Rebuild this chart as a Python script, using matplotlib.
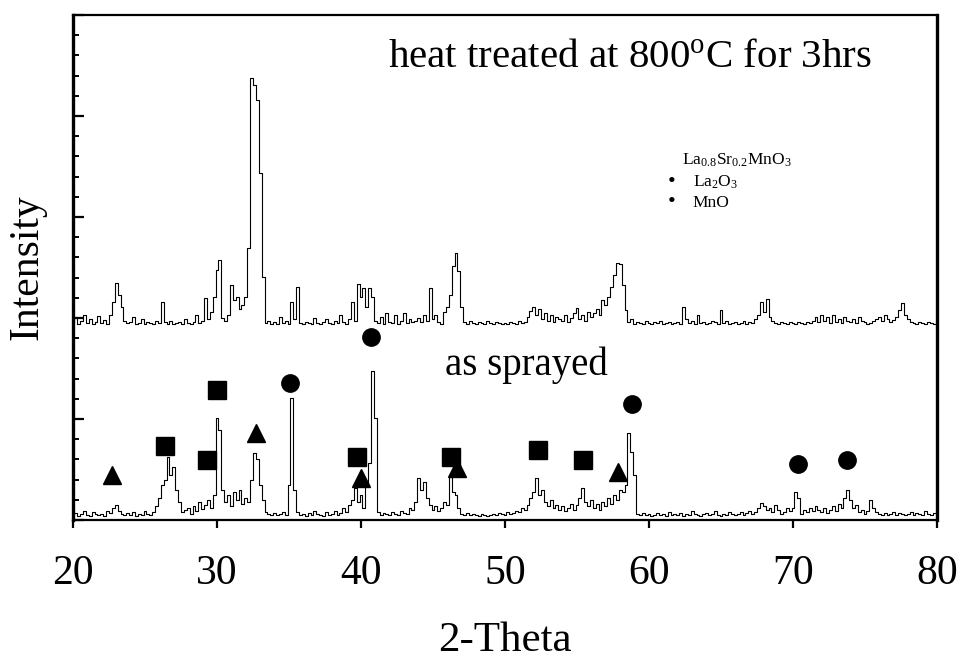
import numpy as np
import matplotlib
matplotlib.use("Agg")
import matplotlib.pyplot as plt
from matplotlib.ticker import MultipleLocator

plt.rcParams['font.family'] = ['Liberation Serif', 'DejaVu Serif']
plt.rcParams['mathtext.fontset'] = 'custom'
plt.rcParams['mathtext.rm'] = 'Liberation Serif'
plt.rcParams['mathtext.it'] = 'Liberation Serif:italic'
plt.rcParams['mathtext.bf'] = 'Liberation Serif:bold'

# ---- data ----
two_theta = np.round(np.arange(20.0, 80.0001, 0.2), 1)

as_sprayed = [
    5, 7, 4, 6, 9, 5, 4, 8, 6, 5,            # 20.0-21.8
    6, 4, 9, 7, 12, 15, 9, 6, 5, 7,          # 22.0-23.8
    5, 8, 4, 6, 5, 9, 6, 5, 8, 14,           # 24.0-25.8
    22, 35, 40, 62, 45, 52, 30, 18, 8, 10,   # 26.0-27.8
    12, 6, 14, 9, 18, 11, 15, 20, 12, 25,    # 28.0-29.8
    101, 89, 30, 18, 25, 14, 28, 20, 30, 16, # 30.0-31.8
    22, 18, 40, 66, 60, 35, 20, 8, 6, 5,     # 32.0-33.8
    7, 5, 6, 8, 5, 35, 121, 30, 8, 5,        # 34.0-35.8
    6, 4, 7, 5, 9, 6, 5, 4, 8, 5,            # 36.0-37.8
    6, 9, 5, 7, 12, 8, 15, 20, 32, 18,       # 38.0-39.8
    25, 12, 35, 56, 148, 101, 8, 5, 7, 6,    # 40.0-41.8
    5, 8, 6, 5, 9, 7, 6, 12, 10, 18,         # 42.0-43.8
    42, 30, 38, 22, 15, 10, 14, 9, 12, 18,   # 44.0-45.8
    15, 43, 28, 25, 12, 6, 5, 7, 5, 6,       # 46.0-47.8
    5, 4, 6, 5, 4, 5, 6, 5, 7, 6,            # 48.0-49.8
    5, 8, 6, 7, 9, 8, 12, 10, 15, 22,        # 50.0-51.8
    28, 42, 25, 30, 18, 14, 20, 12, 15, 10,  # 52.0-53.8
    14, 9, 12, 16, 10, 15, 22, 32, 18, 14,   # 54.0-55.8
    20, 12, 16, 10, 18, 14, 22, 16, 25, 20,  # 56.0-57.8
    30, 28, 35, 86, 67, 45, 6, 5, 7, 5,      # 58.0-59.8
    6, 4, 5, 7, 5, 6, 4, 8, 5, 6,            # 60.0-61.8
    5, 7, 4, 6, 5, 9, 6, 5, 4, 6,            # 62.0-63.8
    7, 5, 6, 9, 5, 4, 6, 5, 8, 6,            # 64.0-65.8
    5, 6, 8, 5, 7, 9, 6, 8, 12, 17,          # 66.0-67.8
    14, 10, 12, 8, 15, 10, 6, 8, 12, 9,      # 68.0-69.8
    12, 28, 22, 6, 10, 8, 12, 9, 14, 10,     # 70.0-71.8
    8, 12, 7, 10, 14, 9, 16, 12, 22, 30,     # 72.0-73.8
    20, 12, 15, 8, 10, 6, 9, 20, 12, 8,      # 74.0-75.8
    6, 5, 7, 5, 6, 8, 5, 7, 6, 5,            # 76.0-77.8
    6, 8, 5, 7, 6, 5, 9, 6, 5, 7,            # 78.0-79.8
    6,                                       # 80.0
]

heat_treated = [
    4, 10, 3, 6, 12, 4, 8, 3, 5, 11,         # 20.0-21.8
    4, 7, 3, 12, 25, 44, 32, 20, 6, 4,       # 22.0-23.8
    5, 10, 3, 4, 8, 3, 5, 4, 3, 6,           # 24.0-25.8
    4, 25, 5, 3, 6, 3, 4, 5, 3, 8,           # 26.0-27.8
    4, 3, 5, 12, 4, 6, 29, 8, 15, 30,        # 28.0-29.8
    57, 66, 9, 6, 12, 42, 27, 30, 18, 22,    # 30.0-31.8
    30, 78, 247, 240, 225, 153, 50, 4, 6, 3, # 32.0-33.8
    5, 3, 10, 4, 6, 3, 25, 8, 40, 4,         # 34.0-35.8
    3, 5, 4, 3, 9, 4, 3, 5, 8, 4,            # 36.0-37.8
    3, 6, 4, 12, 5, 3, 8, 25, 6, 43,         # 38.0-39.8
    30, 39, 20, 39, 30, 6, 4, 10, 3, 14,     # 40.0-41.8
    5, 4, 12, 3, 6, 14, 4, 8, 5, 6,          # 42.0-43.8
    9, 5, 12, 6, 39, 8, 12, 5, 3, 15,        # 44.0-45.8
    20, 32, 60, 73, 56, 20, 5, 3, 6, 4,      # 46.0-47.8
    3, 5, 4, 3, 6, 4, 3, 5, 4, 3,            # 48.0-49.8
    4, 3, 5, 4, 3, 6, 4, 5, 10, 16,          # 50.0-51.8
    20, 12, 18, 8, 14, 6, 12, 5, 10, 8,      # 52.0-53.8
    6, 12, 5, 9, 14, 19, 8, 12, 6, 15,       # 54.0-55.8
    10, 14, 18, 12, 27, 22, 30, 40, 52, 63,  # 56.0-57.8
    62, 42, 17, 5, 8, 3, 5, 4, 3, 6,         # 58.0-59.8
    4, 3, 5, 4, 6, 3, 4, 5, 3, 4,            # 60.0-61.8
    5, 3, 20, 8, 4, 6, 3, 12, 4, 5,          # 62.0-63.8
    3, 4, 6, 5, 3, 17, 4, 6, 3, 4,           # 64.0-65.8
    5, 3, 4, 6, 3, 5, 4, 8, 12, 25,          # 66.0-67.8
    15, 28, 10, 6, 4, 3, 5, 4, 3, 5,         # 68.0-69.8
    4, 3, 5, 4, 3, 5, 4, 6, 10, 5,           # 70.0-71.8
    12, 6, 10, 4, 12, 5, 8, 4, 10, 6,        # 72.0-73.8
    5, 8, 4, 10, 6, 5, 3, 4, 6, 8,           # 74.0-75.8
    10, 6, 12, 8, 5, 7, 10, 17, 24, 12,      # 76.0-77.8
    8, 5, 4, 3, 5, 4, 3, 5, 4, 3,            # 78.0-79.8
    4,                                       # 80.0
]

# phase markers on the as-sprayed pattern
square_x = [26.4, 29.3, 30.0, 39.7, 46.25, 52.3, 55.4]
square_y = [73, 59, 129, 62, 62, 69, 59]
triangle_x = [22.7, 32.7, 40.0, 46.7, 57.85]
triangle_y = [45, 86, 42, 51, 48]
circle_x = [35.1, 40.7, 58.8, 70.35, 73.75]
circle_y = [136, 181, 115, 55, 59]

x_ticks = [20, 30, 40, 50, 60, 70, 80]

# ---- plot ----
fig = plt.figure(figsize=(9.59, 6.65), dpi=100)
ax = fig.add_axes([73/959, 1-520/665, (937-73)/959, (520-15)/665])

offset = 191
ax.plot(two_theta, as_sprayed, color='black', lw=0.8, drawstyle='steps-mid')
ax.plot(two_theta, np.array(heat_treated) + offset, color='black', lw=0.8,
        drawstyle='steps-mid')

ms = 12.5
ax.plot(square_x, square_y, 's', color='black', ms=ms, ls='none')
ax.plot(triangle_x, triangle_y, '^', color='black', ms=ms, ls='none')
ax.plot(circle_x, circle_y, 'o', color='black', ms=ms, ls='none')

ax.set_xlim(20, 80)
ax.set_ylim(0, 500)
ax.set_xticks(x_ticks)
ax.set_xticklabels([str(t) for t in x_ticks])
ax.yaxis.set_major_locator(MultipleLocator(100))
ax.yaxis.set_minor_locator(MultipleLocator(20))
ax.set_yticklabels([])

ax.tick_params(axis='x', which='major', direction='out', length=6, width=1.6,
               labelsize=30, pad=19, top=False)
ax.tick_params(axis='y', which='major', direction='in', length=8, width=1.6,
               right=False)
ax.tick_params(axis='y', which='minor', direction='in', length=4.5, width=1.4,
               right=False)

for side in ['left', 'right']:
    ax.spines[side].set_linewidth(2.4)
for side in ['top', 'bottom']:
    ax.spines[side].set_linewidth(1.6)

ax.set_xlabel('2-Theta', fontsize=31, va='center')
ax.xaxis.set_label_coords(0.5, (520 - 641) / 505)
ax.set_ylabel('Intensity', fontsize=30, va='center')
ax.yaxis.set_label_coords((27 - 73) / 864, 0.5)

ax.text(41.9, 458, 'heat treated at 800$^{\\rm o}$C for 3hrs', fontsize=29.5,
        va='center', ha='left')
ax.text(45.8, 153, 'as sprayed', fontsize=28, va='center', ha='left')

ax.text(62.3, 356, 'La$_{0.8}$Sr$_{0.2}$MnO$_3$', fontsize=12.5, va='center', ha='left')
ax.text(61.6, 334, '\u2022', fontsize=16, va='center', ha='center')
ax.text(63.05, 334, 'La$_2$O$_3$', fontsize=12.5, va='center', ha='left')
ax.text(61.6, 314, '\u2022', fontsize=16, va='center', ha='center')
ax.text(63.05, 314, 'MnO', fontsize=12.5, va='center', ha='left')

fig.savefig('out.png', dpi=100)
